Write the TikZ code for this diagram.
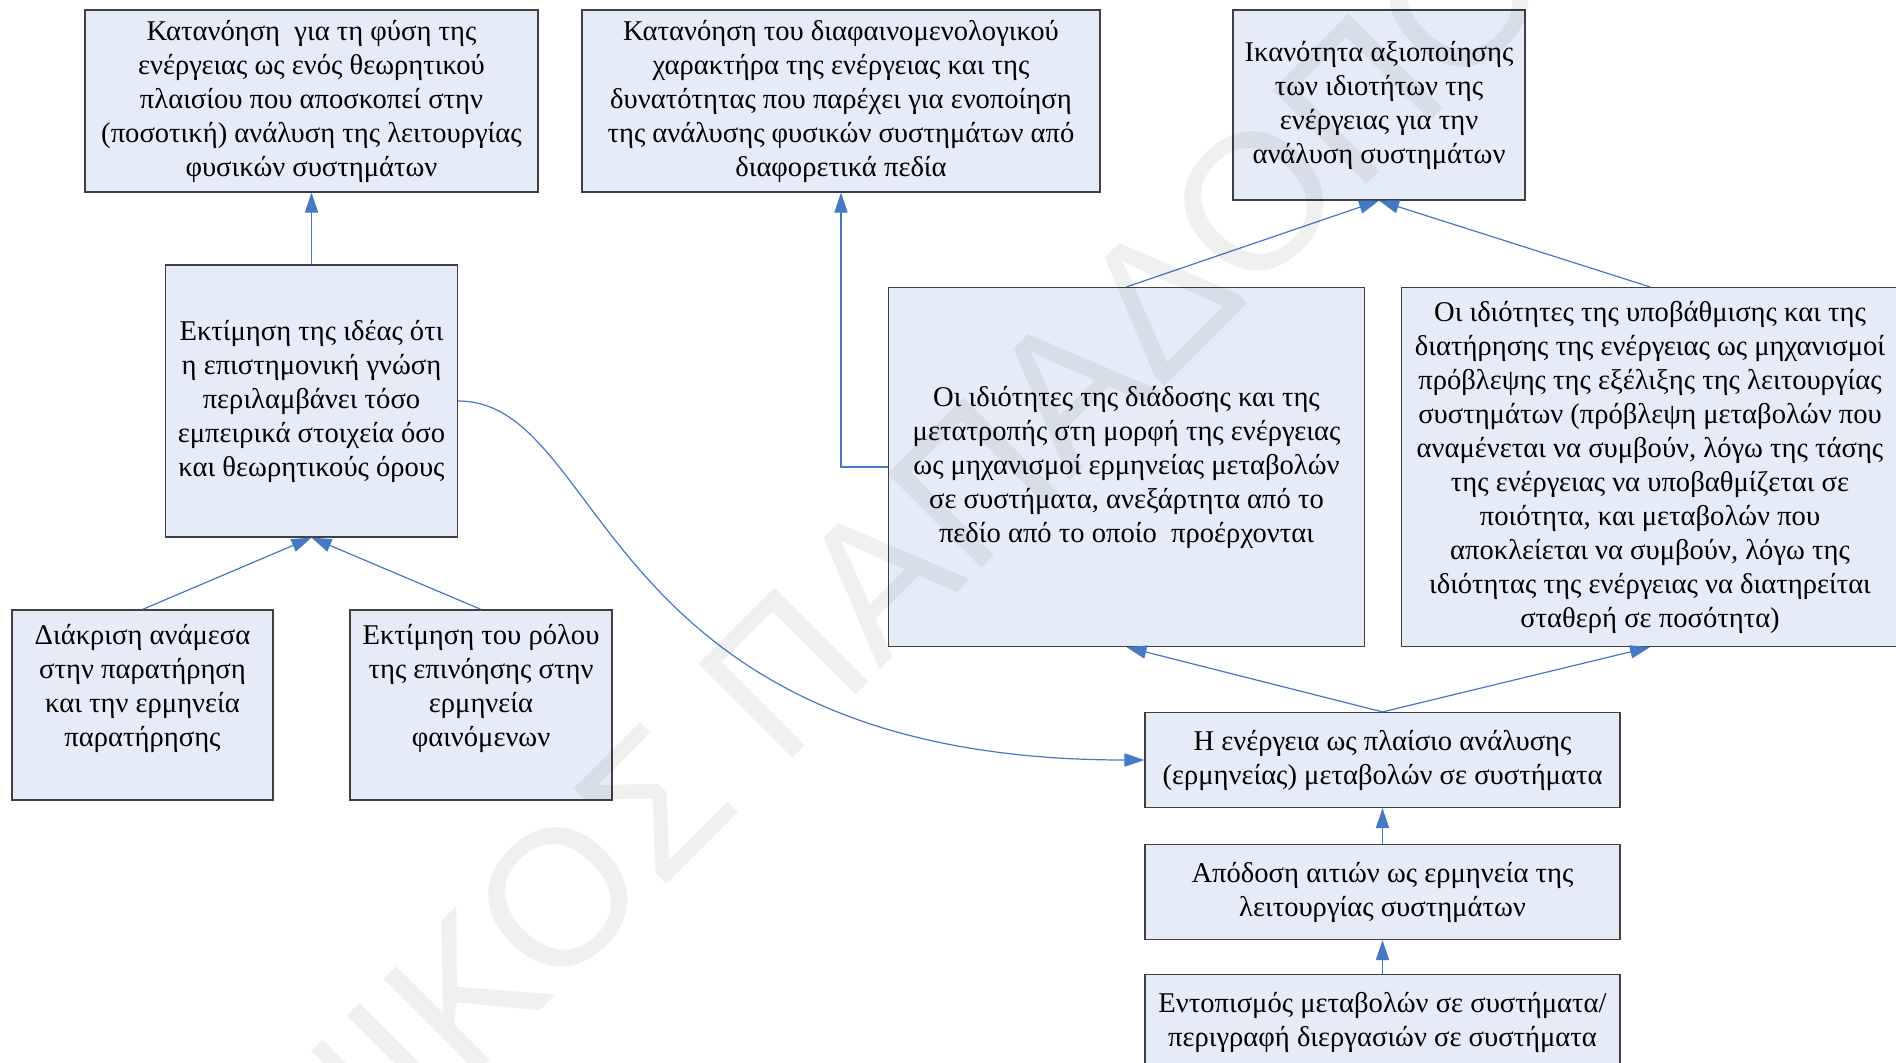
\documentclass[tikz,border=0pt]{standalone}
\usepackage{fontspec}
\setmainfont{Liberation Serif}
\newfontfamily\wmfont{Liberation Sans}
\usetikzlibrary{arrows.meta}

\definecolor{boxfill}{RGB}{230,236,247}
\definecolor{boxline}{RGB}{64,64,64}
\definecolor{linkblue}{RGB}{70,120,196}

\tikzset{
  box/.style={draw=boxline, fill=boxfill, line width=0.6pt, inner sep=2pt,
    align=center, font=\fontsize{14.3pt}{17pt}\selectfont},
  boxtext/.style={inner sep=0pt, align=center, font=\fontsize{14.3pt}{17pt}\selectfont},
  link/.style={draw=linkblue, line width=0.6pt},
  arr/.style={link, -{Triangle[length=10pt,width=6.6pt]}},
  wm/.style={inner sep=0pt, text=black, text opacity=0.06,
    font=\wmfont\fontsize{96.5pt}{100pt}\selectfont}
}

\begin{document}
\begin{tikzpicture}[x=0.5pt, y=-0.5pt]
\useasboundingbox (0,0) rectangle (1896,1062);

% top row
\node[box, minimum width=226.5pt, minimum height=91pt] (tl) at (311.5,101)
  {Κατανόηση\ \ για τη φύση της\\ ενέργειας ως ενός θεωρητικού\\ πλαισίου που αποσκοπεί στην\\ (ποσοτική) ανάλυση της λειτουργίας\\ φυσικών συστημάτων};
\node[box, minimum width=259pt, minimum height=91pt] (tm) at (841,101)
  {Κατανόηση του διαφαινομενολογικού\\ χαρακτήρα της ενέργειας και της\\ δυνατότητας που παρέχει για ενοποίηση\\ της ανάλυσης φυσικών συστημάτων από\\ διαφορετικά πεδία};
\node[box, minimum width=146pt, minimum height=95pt] (tr) at (1379,105)
  {Ικανότητα αξιοποίησης\\ των ιδιοτήτων της\\ ενέργειας για την\\ ανάλυση συστημάτων};

% middle row
\node[box, minimum width=146pt, minimum height=136pt] (ml) at (311.5,401)
  {Εκτίμηση της ιδέας ότι\\ η επιστημονική γνώση\\ περιλαμβάνει τόσο\\ εμπειρικά στοιχεία όσο\\ και θεωρητικούς όρους};
\node[box, minimum width=238pt, minimum height=179.5pt] (mm) at (1126.5,467)
  {Οι ιδιότητες της διάδοσης και της\\ μετατροπής στη μορφή της ενέργειας\\ ως μηχανισμοί ερμηνείας μεταβολών\\ σε συστήματα, ανεξάρτητα από το\\ πεδίο από το οποίο\ \ προέρχονται};
\node[box, minimum width=248.5pt, minimum height=179.5pt] (mr) at (1650,467)
  {Οι ιδιότητες της υποβάθμισης και της\\ διατήρησης της ενέργειας ως μηχανισμοί\\ πρόβλεψης της εξέλιξης της λειτουργίας\\ συστημάτων (πρόβλεψη μεταβολών που\\ αναμένεται να συμβούν, λόγω της τάσης\\ της ενέργειας να υποβαθμίζεται σε\\ ποιότητα, και μεταβολών που\\ αποκλείεται να συμβούν, λόγω της\\ ιδιότητας της ενέργειας να διατηρείται\\ σταθερή σε ποσότητα)};

% lower left pair (text sits high in the box)
\node[box, minimum width=130.5pt, minimum height=95pt] (bla) at (142.5,705) {};
\node[boxtext] (blat) at (142.5,688)
  {Διάκριση ανάμεσα\\ στην παρατήρηση\\ και την ερμηνεία\\ παρατήρησης};
\node[box, minimum width=131pt, minimum height=95pt] (blb) at (481,705) {};
\node[boxtext] (blbt) at (481,688)
  {Εκτίμηση του ρόλου\\ της επινόησης στην\\ ερμηνεία\\ φαινόμενων};

% lower right column
\node[box, minimum width=237.5pt, minimum height=47.5pt] (fw) at (1382.5,760)
  {Η ενέργεια ως πλαίσιο ανάλυσης\\ (ερμηνείας) μεταβολών σε συστήματα};
\node[box, minimum width=237.5pt, minimum height=47.5pt] (cause) at (1382.5,892)
  {Απόδοση αιτιών ως ερμηνεία της\\ λειτουργίας συστημάτων};
\node[box, minimum width=237.5pt, minimum height=47.5pt] (detect) at (1382.5,1022)
  {Εντοπισμός μεταβολών σε συστήματα/\\ περιγραφή διεργασιών σε συστήματα};

% connectors
\draw[arr] (ml.north) -- (tl.south);
\draw[arr] (bla.north) -- (ml.south);
\draw[arr] (blb.north) -- (ml.south);
\draw[arr] (mm.west) -| (tm.south);
\draw[arr] (mm.north) -- (tr.south);
\draw[arr] (mr.north) -- (tr.south);
\draw[arr] (fw.north) -- (mm.south);
\draw[arr] (fw.north) -- (mr.south);
\draw[arr] (cause.north) -- (fw.south);
\draw[arr] (detect.north) -- (cause.south);
\draw[arr] (ml.east) .. controls +(150,0) and +(-549,0) .. (fw.west);

% watermark
\node[wm, rotate=45, anchor=base west] (wmark) at (329.3,1221.4) {ΝΙΚΟΣ ΠΑΠΑΔΟΠΟΥΛΟΣ};
\end{tikzpicture}
\end{document}
